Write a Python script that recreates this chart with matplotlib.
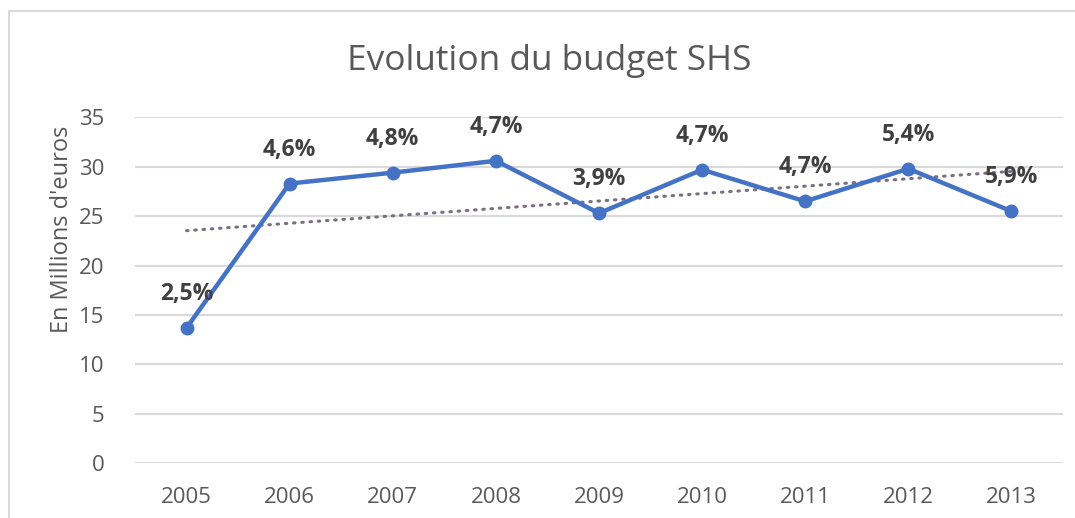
import numpy as np
import matplotlib
matplotlib.use("Agg")
import matplotlib.pyplot as plt
from matplotlib.patches import Rectangle

years = ["2005", "2006", "2007", "2008", "2009", "2010", "2011", "2012", "2013"]
budget = [13.7, 28.3, 29.4, 30.6, 25.3, 29.7, 26.5, 29.8, 25.5]
pct_labels = ["2,5%", "4,6%", "4,8%", "4,7%", "3,9%", "4,7%", "4,7%", "5,4%", "5,9%"]
yticks = [0, 5, 10, 15, 20, 25, 30, 35]

plt.rcParams['font.family'] = ['Open Sans', 'DejaVu Sans']

W, H = 1075, 518
fig = plt.figure(figsize=(W / 100, H / 100), dpi=100)

# chart border (cropped at right and bottom)
fig.patches.append(Rectangle((9 / W, -0.05), 1.2, 1 - 11 / H + 0.05,
                             transform=fig.transFigure, fill=False,
                             edgecolor="#d9d9d9", linewidth=1.5))

ax = fig.add_axes([135 / W, 1 - 463.3 / H, (1063 - 135) / W, (463.3 - 117.3) / H])
x = np.arange(len(years))
ax.set_xlim(-0.5, len(years) - 0.5)
ax.set_ylim(0, 35)
ax.set_yticks(yticks)
ax.set_xticks(x)
ax.set_xticklabels(years)
for s in ax.spines.values():
    s.set_visible(False)
ax.grid(axis="y", color="#d9d9d9", linewidth=1.5)
ax.set_axisbelow(True)
ax.tick_params(axis="both", length=0, labelsize=16, colors="#595959")
ax.tick_params(axis="y", pad=22)
ax.tick_params(axis="x", pad=17)

# linear trendline
coef = np.polyfit(x, budget, 1)
ax.plot(x, np.polyval(coef, x), linestyle=(0, (0.5, 2.2)), color="#7a6e85",
        linewidth=2.2, dash_capstyle="round", zorder=2)

ax.plot(x, budget, color="#4472C4", linewidth=3.2, marker="o", markersize=9,
        zorder=3, solid_capstyle="round")

for xi, yi, lab in zip(x, budget, pct_labels):
    ax.annotate(lab, (xi, yi), xytext=(0, 24.5), textcoords="offset points",
                ha="center", va="center", fontsize=16.5, fontweight="bold",
                color="#404040", zorder=4)

fig.text(62 / W, 1 - 229 / H, "En Millions d'euros", rotation=90, ha="center",
         va="center", fontsize=17, color="#595959")
fig.text(549 / W, 1 - 61 / H, "Evolution du budget SHS", ha="center", va="center",
         fontsize=25.4, color="#595959")

fig.savefig("out.png", dpi=100)
